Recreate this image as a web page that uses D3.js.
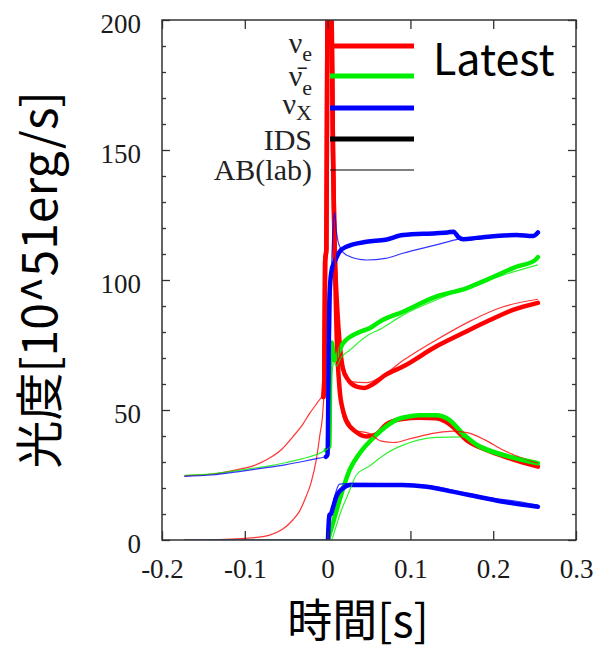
<!DOCTYPE html>
<html><head><meta charset="utf-8">
<script src="https://cdn.jsdelivr.net/npm/d3@7"></script>
<style>
html,body{margin:0;padding:0;background:#fff;}
svg{display:block;}
</style>
</head><body>
<svg id="chart" width="601" height="651"></svg>
<script>
// ---- data (time [s], luminosity [10^51 erg/s]) ----
// IDS (thick lines)
const idsNueA = [[-0.005,55],[-0.004,62],[-0.003,107],[-0.0015,112],[-0.0008,160],[0.0,215],[0.003,260],[0.0045,215],[0.0065,150],[0.009,108],[0.0115,90],[0.0145,76],[0.0185,66],[0.025,61.5],[0.035,59],[0.045,58.5],[0.055,60],[0.07,63.5],[0.091,66.7],[0.131,74.4],[0.163,79.5],[0.196,84.6],[0.224,88.5],[0.254,91.2]];
const idsNueB = [[-0.005,55],[-0.004,62],[-0.003,107],[-0.0015,112],[-0.0008,160],[0.0,215],[0.003,260],[0.0045,215],[0.0065,150],[0.0085,110],[0.011,78],[0.0145,58],[0.0185,50],[0.0226,46],[0.0346,41.5],[0.047,39.8],[0.058,40.5],[0.0709,44.5],[0.09,46.5],[0.111,47],[0.131,46.8],[0.141,45.8],[0.151,43.6],[0.1675,38.5],[0.1917,34.6],[0.22,31.4],[0.254,28.2]];
const idsNuebA = [[-0.002,34.5],[0.002,36],[0.0035,72],[0.005,76],[0.008,69],[0.011,70.5],[0.0185,75.6],[0.0386,80],[0.0507,81.4],[0.063,84],[0.091,87.8],[0.131,93.6],[0.1675,96.8],[0.196,100.6],[0.228,105.1],[0.25,107.5],[0.254,108.8]];
const idsNuebB = [[0.0004,0],[0.0064,6.4],[0.0145,15.4],[0.0266,27],[0.0386,33.3],[0.0588,40.4],[0.07,43.5],[0.083,46.2],[0.1,47.6],[0.111,48],[0.131,48],[0.147,46.2],[0.163,41],[0.1836,35.9],[0.212,32.7],[0.254,29.5]];
const idsNuxA = [[-0.002,32],[0.0,33],[0.001,60],[0.002,90],[0.003,98],[0.005,104],[0.0085,107],[0.0145,110.9],[0.0226,112.8],[0.047,114.7],[0.07,115.5],[0.091,117.3],[0.131,118],[0.145,118.3],[0.152,118.6],[0.158,116.5],[0.164,115.7],[0.18,116.2],[0.2,116.8],[0.228,117.3],[0.248,116.9],[0.254,118.3]];
const idsNuxB = [[0.0004,0],[0.002,9.6],[0.004,10],[0.0065,12.5],[0.0105,16.7],[0.0185,19.9],[0.0266,21.2],[0.09,21.2],[0.12,20.5],[0.151,18.6],[0.171,17.3],[0.212,14.7],[0.254,12.8]];
// AB(lab) (thin lines)
const abNueA = [[-0.173,24.7],[-0.14,25.3],[-0.11,27],[-0.09,28.5],[-0.07,31.5],[-0.055,35],[-0.042,39.7],[-0.03,44.5],[-0.0217,48.7],[-0.012,53],[-0.0056,56.4],[-0.003,70],[-0.0015,120],[0.0,200],[0.002,260],[0.005,230],[0.007,170],[0.009,120],[0.012,85],[0.016,68],[0.02,63],[0.027,61],[0.047,60.5],[0.063,62.5],[0.091,69],[0.131,76.9],[0.171,84],[0.212,89.7],[0.254,92.6]];
const abNueB = [[-0.173,0],[-0.13,0.2],[-0.1,0.6],[-0.07,1.9],[-0.055,4],[-0.042,7.7],[-0.034,11],[-0.026,16.7],[-0.02,22],[-0.0137,30.8],[-0.0095,40],[-0.0056,50],[-0.003,68],[-0.001,130],[0.001,220],[0.004,240],[0.006,200],[0.008,130],[0.011,80],[0.015,55],[0.02,46],[0.03,42.3],[0.05,41],[0.065,38],[0.08,37.5],[0.1,39],[0.131,41.2],[0.151,41.9],[0.17,41.2],[0.19,38.5],[0.212,34.6],[0.235,31.5],[0.254,29.5]];
const abNuebA = [[-0.173,24.9],[-0.14,25.4],[-0.103,27],[-0.07,28.5],[-0.05,29.8],[-0.03,31.3],[-0.01,33.3],[-0.002,34.6],[0.0035,36],[0.005,64],[0.008,68],[0.011,67],[0.016,70],[0.0266,73],[0.05,79],[0.063,81],[0.091,86.5],[0.131,92.3],[0.171,97.4],[0.212,101.9],[0.254,105.8]];
const abNuebB = [[-0.173,0],[0.004,0],[0.01,5],[0.015,10],[0.0266,19],[0.0346,25],[0.0507,28.5],[0.063,31.5],[0.0709,33.3],[0.091,36.5],[0.131,39.5],[0.163,39.7],[0.18,37.2],[0.212,33.3],[0.254,30.1]];
const abNuxA = [[-0.173,24.5],[-0.14,25],[-0.103,26.5],[-0.07,28],[-0.05,29],[-0.03,30.2],[-0.01,31.5],[-0.002,32],[0.001,34],[0.003,70],[0.0045,100],[0.007,122],[0.0085,126],[0.0105,119],[0.0125,115],[0.016,112],[0.0226,109.6],[0.047,107.7],[0.07,108.3],[0.091,110.3],[0.131,113.5],[0.159,115.7],[0.19,116.5],[0.22,117],[0.254,117.5]];
const abNuxB = [[-0.173,0],[0.0,0],[0.002,4],[0.005,11],[0.008,16],[0.0105,19],[0.0145,21.5],[0.03,21.8],[0.1,21.3],[0.13,20.5],[0.16,18.5],[0.2,16],[0.23,14.8],[0.254,13.4]];

const xTicks = [-0.2,-0.1,0,0.1,0.2,0.3];
const xTickLabels = ["-0.2","-0.1","0","0.1","0.2","0.3"];
const yTicks = [0,50,100,150,200];
const yMinorTicks = [10,20,30,40,60,70,80,90,110,120,130,140,160,170,180,190];
const legendKeys = ["nue","nueb","nux","ids","ab"];
const xTitle = "時間[s]";
const yTitle = "光度[10^51erg/s]";
const annotation = "Latest";

// ---- layout ----
const svg = d3.select("#chart");
const L = 162, R = 576, T = 20, B = 540;
const x = d3.scaleLinear().domain([-0.2,0.3]).range([L,R]);
const y = d3.scaleLinear().domain([0,200]).range([B,T]);
const serif = "'Liberation Serif','Times New Roman',serif";
const gothic = "'Noto Sans CJK JP','Noto Sans',sans-serif";
const COL = {nue:"#ff0000", nueb:"#00ee00", nux:"#0000ff"};

svg.append("defs").append("clipPath").attr("id","clip")
  .append("rect").attr("x",L).attr("y",T).attr("width",R-L).attr("height",B-T);

const line = d3.line().x(d=>x(d[0])).y(d=>y(d[1])).curve(d3.curveMonotoneX);
const plot = svg.append("g").attr("clip-path","url(#clip)");

const thick = [[idsNueA,"nue"],[idsNueB,"nue"],[idsNuebA,"nueb"],[idsNuebB,"nueb"],[idsNuxA,"nux"],[idsNuxB,"nux"]];
const thin = [[abNueA,"nue"],[abNueB,"nue"],[abNuebA,"nueb"],[abNuebB,"nueb"],[abNuxA,"nux"],[abNuxB,"nux"]];

thick.forEach(([d,c])=>{
  plot.append("path").datum(d).attr("d",line).attr("fill","none")
    .attr("stroke",COL[c]).attr("stroke-width",4.5).attr("stroke-linejoin","round").attr("stroke-linecap","round");
});
thin.forEach(([d,c])=>{
  plot.append("path").datum(d).attr("d",line).attr("fill","none")
    .attr("stroke",COL[c]).attr("stroke-opacity",0.8).attr("stroke-width",1.2);
});

// ---- axes (ticks inward) ----
function styleAxis(g){
  g.select(".domain").remove();
  g.selectAll("line").attr("stroke","#333").attr("stroke-width",1.3);
  g.selectAll("text").attr("font-family",serif).attr("font-size",27).attr("fill","#1a1a1a");
}
svg.append("g").attr("transform",`translate(0,${B})`)
  .call(d3.axisBottom(x).tickValues(xTicks).tickFormat((d,i)=>xTickLabels[i]).tickSizeInner(-9).tickSizeOuter(0).tickPadding(19))
  .call(styleAxis);
svg.append("g").attr("transform",`translate(0,${T})`)
  .call(d3.axisTop(x).tickValues(xTicks).tickFormat("").tickSizeInner(-9).tickSizeOuter(0))
  .call(styleAxis);
svg.append("g").attr("transform",`translate(${L},0)`)
  .call(d3.axisLeft(y).tickValues(yTicks).tickSizeInner(-8).tickSizeOuter(0).tickPadding(21))
  .call(styleAxis)
  .call(g=>g.selectAll("text").attr("dy","0.45em"));
svg.append("g").attr("transform",`translate(${L},0)`)
  .call(d3.axisLeft(y).tickValues(yMinorTicks).tickFormat("").tickSizeInner(-4).tickSizeOuter(0))
  .call(styleAxis);
svg.append("g").attr("transform",`translate(${R},0)`)
  .call(d3.axisRight(y).tickValues(yTicks).tickFormat("").tickSizeInner(-8).tickSizeOuter(0))
  .call(styleAxis);
svg.append("g").attr("transform",`translate(${R},0)`)
  .call(d3.axisRight(y).tickValues(yMinorTicks).tickFormat("").tickSizeInner(-4).tickSizeOuter(0))
  .call(styleAxis);
svg.append("rect").attr("x",L).attr("y",T).attr("width",R-L).attr("height",B-T)
  .attr("fill","none").attr("stroke","#333").attr("stroke-width",1.5);

// ---- legend ----
const lg = svg.append("g");
const legY = {nue:46, nueb:76, nux:108, ids:139, ab:170};
const legStroke = {nue:[COL.nue,5], nueb:[COL.nueb,5], nux:[COL.nux,5], ids:["#000",5], ab:["#000",1.2]};
legendKeys.forEach(k=>{
  lg.append("line").attr("x1",330).attr("x2",414).attr("y1",legY[k]).attr("y2",legY[k])
    .attr("stroke",legStroke[k][0]).attr("stroke-width",legStroke[k][1]);
});
function legText(yb){ return lg.append("text").attr("x",312).attr("y",yb).attr("text-anchor","end")
  .attr("font-family",serif).attr("font-size",30).attr("fill","#222"); }
let t1 = legText(53); t1.append("tspan").text("ν"); t1.append("tspan").attr("font-size",22).attr("dy",8).text("e");
let t2 = legText(86); t2.append("tspan").text("ν\u0304"); t2.append("tspan").attr("font-size",22).attr("dy",9).text("e");
let t3 = legText(114); t3.append("tspan").text("ν"); t3.append("tspan").attr("font-size",22).attr("dy",6).text("X");
legText(150).text("IDS");
legText(180).text("AB(lab)");

svg.append("text").attr("x",433).attr("y",75).attr("font-family",gothic).attr("font-size",43)
  .attr("fill","#000").text(annotation);

// ---- titles ----
svg.append("text").attr("x",358).attr("y",637).attr("text-anchor","middle")
  .attr("font-family",gothic).attr("font-size",45).attr("fill","#000").text(xTitle);
svg.append("text").attr("transform","translate(57,280) rotate(-90)").attr("text-anchor","middle")
  .attr("font-family",gothic).attr("font-size",48).attr("fill","#000").text(yTitle);
</script>
</body></html>
